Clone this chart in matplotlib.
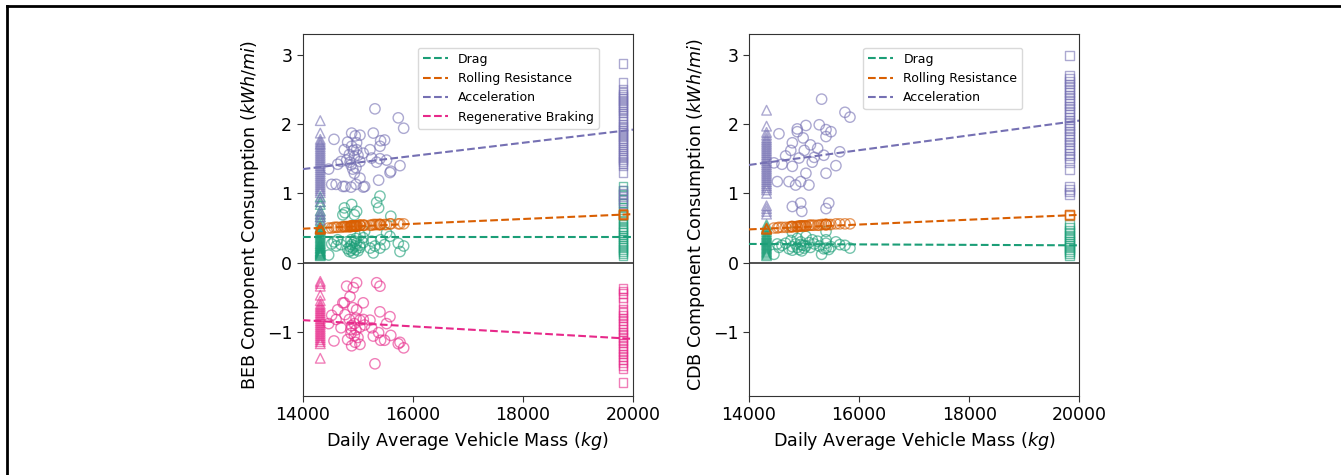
import numpy as np
import matplotlib
matplotlib.use("Agg")
import matplotlib.pyplot as plt
from matplotlib.lines import Line2D

# DATA ------------------------------------------------------------------------

tri_mass = 14320   # all triangle vehicles share this daily mass
sq_mass = 19820    # all square vehicles share this daily mass
fit_mass = [14000, 20000]

# BEB triangles
beb_tri_drag = [0.95, 0.88, 0.84, 0.75, 0.70, 0.66, 0.60, 0.55, 0.52, 0.50, 0.47, 0.45,
                0.42, 0.40, 0.38, 0.36, 0.34, 0.32, 0.30, 0.28, 0.27, 0.25, 0.24, 0.22,
                0.21, 0.20, 0.18, 0.17, 0.16, 0.15, 0.14, 0.13, 0.12, 0.11, 0.10]
beb_tri_roll = [0.49, 0.49, 0.50, 0.48, 0.49, 0.50]
beb_tri_accel = [2.05, 1.87, 1.78, 1.75, 1.72, 1.70, 1.67, 1.64, 1.61, 1.58, 1.55, 1.52,
                 1.49, 1.46, 1.43, 1.40, 1.37, 1.34, 1.31, 1.28, 1.25, 1.22, 1.19, 1.16,
                 1.13, 1.10, 1.07, 1.04, 1.01, 0.93, 0.88, 0.74, 0.70, 0.66, 0.62]
beb_tri_regen = [-0.27, -0.30, -0.34, -0.47, -0.55, -0.60, -0.63, -0.66, -0.69, -0.72,
                 -0.75, -0.78, -0.81, -0.84, -0.87, -0.90, -0.93, -0.96, -0.99, -1.02,
                 -1.05, -1.08, -1.11, -1.14, -1.17, -1.38]

# BEB circles
beb_circ_mass = [14472, 14527, 14569, 14608, 14636, 14697, 14730, 14757, 14769, 14799,
                 14817, 14848, 14860, 14878, 14878, 14890, 14890, 14910, 14920, 14939,
                 14939, 14955, 14969, 14969, 14980, 14980, 15005, 15041, 15041, 15041,
                 15101, 15101, 15126, 15223, 15253, 15283, 15313, 15344, 15380, 15404,
                 15404, 15416, 15488, 15524, 15586, 15601, 15737, 15768, 15835]
beb_circ_drag = [0.11, 0.27, 0.30, 0.24, 0.33, 0.26, 0.69, 0.79, 0.72, 0.30,
                 0.20, 0.16, 0.23, 0.33, 0.18, 0.84, 0.26, 0.21, 0.14, 0.69,
                 0.31, 0.24, 0.19, 0.35, 0.74, 0.28, 0.17, 0.40, 0.22, 0.25,
                 0.29, 0.36, 0.45, 0.21, 0.31, 0.14, 0.24, 0.87, 0.79, 0.96,
                 0.21, 0.33, 0.26, 0.43, 0.38, 0.67, 0.28, 0.16, 0.24]
beb_circ_roll = [0.50, 0.50, 0.51, 0.51, 0.51, 0.51, 0.52, 0.52, 0.52, 0.52,
                 0.52, 0.52, 0.52, 0.52, 0.53, 0.53, 0.53, 0.53, 0.53, 0.53,
                 0.53, 0.53, 0.53, 0.53, 0.53, 0.53, 0.53, 0.54, 0.54, 0.54,
                 0.54, 0.54, 0.54, 0.54, 0.54, 0.55, 0.55, 0.55, 0.55, 0.55,
                 0.55, 0.55, 0.55, 0.55, 0.56, 0.56, 0.56, 0.56, 0.56]
beb_circ_accel = [1.35, 1.13, 1.78, 1.13, 1.42, 1.46, 1.10, 1.63, 1.10, 1.48,
                  1.74, 1.56, 1.45, 1.41, 1.09, 1.87, 1.68, 1.35, 1.62, 1.53,
                  1.29, 1.83, 1.37, 1.13, 1.73, 1.63, 1.55, 1.84, 1.46, 1.22,
                  1.58, 1.09, 1.10, 1.63, 1.51, 1.87, 2.22, 1.45, 1.19, 1.68,
                  1.50, 1.76, 1.77, 1.48, 1.30, 1.32, 2.09, 1.40, 1.94]
beb_circ_regen = [-0.88, -0.76, -1.13, -0.82, -0.68, -0.94, -0.58, -0.58, -0.75, -0.34,
                  -1.11, -0.82, -0.49, -0.96, -1.02, -0.91, -1.20, -0.65, -0.36, -1.05,
                  -0.88, -1.15, -0.97, -0.80, -0.29, -0.68, -1.08, -0.83, -0.93, -1.18,
                  -0.58, -0.82, -0.90, -0.83, -0.94, -1.06, -1.46, -0.29, -1.01, -0.34,
                  -0.71, -1.12, -1.12, -0.88, -0.78, -1.05, -1.17, -1.15, -1.23]

# BEB squares
beb_sq_accel = [2.87, 2.60, 2.50, 2.46, 2.43, 2.40, 2.37, 2.34, 2.31, 2.28, 2.25, 2.22,
                2.19, 2.16, 2.12, 2.08, 2.04, 2.00, 1.97, 1.94, 1.91, 1.88, 1.85, 1.82,
                1.79, 1.76, 1.73, 1.70, 1.67, 1.64, 1.61, 1.58, 1.55, 1.52, 1.49, 1.46,
                1.43, 1.40, 1.30, 1.05, 1.00, 0.95, 0.90, 0.85]
beb_sq_drag = [1.10, 1.04, 0.98, 0.92, 0.86, 0.80, 0.74, 0.68, 0.64, 0.60, 0.56, 0.52,
               0.49, 0.46, 0.43, 0.40, 0.37, 0.34, 0.31, 0.28, 0.25, 0.22, 0.19, 0.16,
               0.13, 0.10]
beb_sq_roll = [0.69, 0.70, 0.71, 0.70, 0.69]
beb_sq_regen = [-0.37, -0.41, -0.45, -0.50, -0.58, -0.68, -0.72, -0.76, -0.80, -0.84,
                -0.88, -0.92, -0.96, -1.00, -1.04, -1.08, -1.12, -1.16, -1.20, -1.24,
                -1.28, -1.32, -1.36, -1.40, -1.44, -1.48, -1.53, -1.73]

# BEB fitted lines (value at 14000 kg and 20000 kg)
beb_fit_drag = [0.37, 0.37]
beb_fit_roll = [0.49, 0.70]
beb_fit_accel = [1.35, 1.92]
beb_fit_regen = [-0.83, -1.10]

# CDB triangles
cdb_tri_drag = [0.55, 0.52, 0.48, 0.45, 0.42, 0.40, 0.38, 0.36, 0.34, 0.32, 0.30, 0.28,
                0.26, 0.24, 0.22, 0.20, 0.18, 0.16, 0.14, 0.12, 0.10]
cdb_tri_roll = [0.49, 0.50, 0.49, 0.48]
cdb_tri_accel = [2.20, 1.97, 1.88, 1.84, 1.80, 1.77, 1.74, 1.71, 1.68, 1.65, 1.62, 1.59,
                 1.56, 1.53, 1.50, 1.47, 1.44, 1.41, 1.38, 1.35, 1.32, 1.29, 1.26, 1.23,
                 1.20, 1.17, 1.14, 1.11, 1.08, 1.05, 1.00, 0.82, 0.78, 0.74, 0.70]

# CDB circles
cdb_circ_mass = [14454, 14515, 14545, 14600, 14666, 14727, 14760, 14788, 14788, 14788,
                 14848, 14878, 14878, 14910, 14940, 14940, 14960, 14985, 15005, 15035,
                 15035, 15090, 15117, 15150, 15187, 15248, 15277, 15320, 15360, 15400,
                 15400, 15400, 15400, 15450, 15490, 15580, 15650, 15744, 15835]
cdb_circ_drag = [0.12, 0.27, 0.22, 0.25, 0.28, 0.20, 0.32, 0.23, 0.18, 0.44,
                 0.27, 0.22, 0.35, 0.19, 0.26, 0.30, 0.17, 0.25, 0.21, 0.38,
                 0.24, 0.29, 0.22, 0.33, 0.27, 0.31, 0.24, 0.12, 0.20, 0.45,
                 0.28, 0.21, 0.33, 0.19, 0.23, 0.30, 0.26, 0.25, 0.21]
cdb_circ_roll = [0.50, 0.50, 0.51, 0.51, 0.51, 0.51, 0.52, 0.52, 0.52, 0.52,
                 0.52, 0.52, 0.52, 0.53, 0.53, 0.53, 0.53, 0.53, 0.53, 0.53,
                 0.53, 0.54, 0.54, 0.54, 0.54, 0.54, 0.54, 0.55, 0.55, 0.55,
                 0.55, 0.55, 0.55, 0.55, 0.55, 0.56, 0.56, 0.56, 0.56]
cdb_circ_accel = [1.44, 1.17, 1.86, 1.42, 1.54, 1.17, 1.62, 1.73, 1.39, 0.81,
                  1.12, 1.93, 1.89, 1.51, 1.17, 0.86, 0.74, 1.80, 1.62, 1.98,
                  1.29, 1.12, 1.70, 1.45, 1.52, 1.65, 1.99, 2.36, 1.55, 1.92,
                  1.82, 1.29, 0.78, 0.86, 1.89, 1.40, 1.60, 2.17, 2.10]

# CDB squares
cdb_sq_accel = [2.99, 2.70, 2.66, 2.62, 2.58, 2.54, 2.50, 2.46, 2.42, 2.38, 2.34, 2.30,
                2.26, 2.22, 2.18, 2.14, 2.10, 2.06, 2.02, 1.98, 1.94, 1.90, 1.86, 1.82,
                1.78, 1.74, 1.70, 1.66, 1.62, 1.58, 1.54, 1.50, 1.45, 1.35, 1.10, 1.06,
                1.02, 0.98]
cdb_sq_drag = [0.55, 0.51, 0.47, 0.43, 0.40, 0.37, 0.34, 0.31, 0.28, 0.25, 0.22, 0.19,
               0.16, 0.13, 0.10]
cdb_sq_roll = [0.69, 0.70, 0.68]

# CDB fitted lines
cdb_fit_drag = [0.27, 0.25]
cdb_fit_roll = [0.48, 0.69]
cdb_fit_accel = [1.41, 2.05]

# STYLE -----------------------------------------------------------------------

GREEN = "#1b9e77"
ORANGE = "#d95f02"
PURPLE = "#7570b3"
PINK = "#e7298a"

plt.rcParams["font.family"] = "DejaVu Sans"
plt.rcParams["mathtext.fontset"] = "dejavusans"

def scatter_group(ax, x, y, marker, color, size):
    x = np.full(len(y), x) if np.isscalar(x) else np.asarray(x)
    ax.scatter(x, y, s=size, marker=marker, facecolors="none",
               edgecolors=color, linewidths=1.0, alpha=0.6, zorder=2)

def component(ax, tri, circ_x, circ, sq, fit, color, label):
    scatter_group(ax, tri_mass, tri, "^", color, 48)
    scatter_group(ax, circ_x, circ, "o", color, 55)
    scatter_group(ax, sq_mass, sq, "s", color, 40)
    ax.plot(fit_mass, fit, "--", color=color, lw=1.5, label=label, zorder=3)

def style_axes(ax, ylabel):
    ax.axhline(0, color="0.2", lw=1.2, zorder=1)
    ax.set_xlim(14000, 20000)
    ax.set_ylim(-1.92, 3.3)
    ax.set_xticks([14000, 16000, 18000, 20000])
    ax.set_yticks([-1, 0, 1, 2, 3])
    ax.tick_params(labelsize=12.5, direction="out", length=4, color="0.2")
    for s in ax.spines.values():
        s.set_color("0.2")
    ax.set_xlabel("Daily Average Vehicle Mass ($kg$)", fontsize=12.6)
    ax.set_ylabel(ylabel, fontsize=12.6)

def add_legend(ax, xc):
    ax.legend(loc="upper center", bbox_to_anchor=(xc, 0.962), borderaxespad=0,
              fontsize=9, handlelength=2.0, framealpha=1, edgecolor="0.85")

# PLOT ------------------------------------------------------------------------

fig = plt.figure(figsize=(13.41, 4.75), dpi=100)
ax1 = fig.add_axes([0.2257, 0.167, 0.2463, 0.7614])
ax2 = fig.add_axes([0.5585, 0.167, 0.2463, 0.7614])

component(ax1, beb_tri_drag, beb_circ_mass, beb_circ_drag, beb_sq_drag, beb_fit_drag, GREEN, "Drag")
component(ax1, beb_tri_roll, beb_circ_mass, beb_circ_roll, beb_sq_roll, beb_fit_roll, ORANGE, "Rolling Resistance")
component(ax1, beb_tri_accel, beb_circ_mass, beb_circ_accel, beb_sq_accel, beb_fit_accel, PURPLE, "Acceleration")
component(ax1, beb_tri_regen, beb_circ_mass, beb_circ_regen, beb_sq_regen, beb_fit_regen, PINK, "Regenerative Braking")
style_axes(ax1, "BEB Component Consumption ($kWh/mi$)")
add_legend(ax1, 0.623)

component(ax2, cdb_tri_drag, cdb_circ_mass, cdb_circ_drag, cdb_sq_drag, cdb_fit_drag, GREEN, "Drag")
component(ax2, cdb_tri_roll, cdb_circ_mass, cdb_circ_roll, cdb_sq_roll, cdb_fit_roll, ORANGE, "Rolling Resistance")
component(ax2, cdb_tri_accel, cdb_circ_mass, cdb_circ_accel, cdb_sq_accel, cdb_fit_accel, PURPLE, "Acceleration")
style_axes(ax2, "CDB Component Consumption ($kWh/mi$)")
add_legend(ax2, 0.587)

# page frame (top and left edges only, as in the source crop)
fig.add_artist(Line2D([0.0052, 1.0], [0.9874, 0.9874], transform=fig.transFigure, color="k", lw=2))
fig.add_artist(Line2D([0.0052, 0.0052], [0.0, 0.9874], transform=fig.transFigure, color="k", lw=2))

fig.savefig("out.png", dpi=100)
